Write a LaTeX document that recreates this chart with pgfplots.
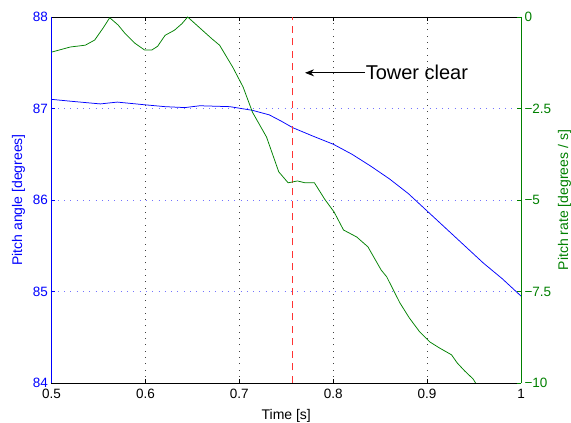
\documentclass[border=0pt]{standalone}
\usepackage{pgfplots}
\pgfplotsset{compat=1.18}
\usepackage{fontspec}
\setmainfont{Liberation Sans}
\usetikzlibrary{arrows.meta}
\definecolor{mgreen}{RGB}{0,128,0}
\definecolor{mblue}{RGB}{0,0,255}
\begin{document}
\begin{tikzpicture}
\useasboundingbox (-51.5bp,-40bp) rectangle (519.5bp,383bp);
\begin{axis}[
  scale only axis, width=469.5bp, height=366bp,
  at={(0,0)}, anchor=south west,
  xmin=0.5, xmax=1, ymin=84, ymax=88,
  xtick={0.5,0.6,0.7,0.8,0.9,1},
  xticklabels={0.5,0.6,0.7,0.8,0.9,1},
  ytick={84,85,86,87,88},
  yticklabels={84,85,86,87,88},
  axis y line*=left,
  axis x line*=box,
  tick align=inside,
  major tick length=4bp,
  every tick label/.append style={font=\fontsize{13.5bp}{16bp}\selectfont},
  xticklabel style={yshift=-3bp},
  yticklabel style={mblue},
  ytick style={mblue},
  y axis line style={mblue, line width=0.8bp},
  x axis line style={black, line width=0.8bp},
  xtick style={black},
  xmajorgrids, ymajorgrids,
  x grid style={black!75, dash pattern=on 0.8bp off 5.5bp},
  y grid style={mblue!55, dash pattern=on 0.8bp off 5.5bp},
  xlabel={Time [s]},
  xlabel style={font=\fontsize{14bp}{16bp}\selectfont, at={(axis description cs:0.5,-0.101)}, anchor=base},
  ylabel={Pitch angle [degrees]},
  ylabel style={font=\fontsize{14bp}{16bp}\selectfont, mblue, at={(axis description cs:-0.0628,0.5)}, anchor=base},
]
\addplot[mblue, line width=0.75bp] coordinates {
(0.500,87.10) (0.520,87.08) (0.552,87.05) (0.570,87.07) (0.600,87.04)
(0.621,87.02) (0.642,87.01) (0.658,87.03) (0.690,87.02) (0.714,86.98)
(0.732,86.93) (0.745,86.86) (0.757,86.79) (0.778,86.70) (0.800,86.61)
(0.820,86.50) (0.840,86.37) (0.860,86.23) (0.880,86.07) (0.900,85.88)
(0.920,85.69) (0.940,85.50) (0.960,85.31) (0.980,85.14) (1.000,84.95)
};
\addplot[red!80, line width=0.9bp, dash pattern=on 7bp off 5.5bp] coordinates {(0.757,84) (0.757,88)};
\draw[-{Stealth[length=9bp,width=7bp]}, line width=0.8bp] (axis cs:0.834,87.39) -- (axis cs:0.770,87.39);
\node[anchor=west, inner sep=0pt, font=\fontsize{20bp}{24bp}\selectfont] at (axis cs:0.8345,87.39) {Tower clear};
\end{axis}
\begin{axis}[
  scale only axis, width=469.5bp, height=366bp,
  at={(0,0)}, anchor=south west,
  xmin=0.5, xmax=1, ymin=-10, ymax=0,
  axis x line=none,
  axis y line*=right,
  ytick={-10,-7.5,-5,-2.5,0},
  yticklabels={−10,−7.5,−5,−2.5,0},
  tick align=inside,
  major tick length=4bp,
  every tick label/.append style={font=\fontsize{13.5bp}{16bp}\selectfont},
  yticklabel style={mgreen},
  ytick style={mgreen},
  y axis line style={mgreen, line width=0.8bp},
  ylabel={Pitch rate [degrees / s]},
  ylabel style={font=\fontsize{14bp}{16bp}\selectfont, mgreen, at={(axis description cs:1.1001,0.5)}, anchor=base, rotate=0},
]
\addplot[mgreen, line width=0.75bp] coordinates {
(0.500,-0.96) (0.520,-0.82) (0.536,-0.77) (0.546,-0.63) (0.555,-0.30)
(0.562,-0.02) (0.571,-0.22) (0.578,-0.44) (0.589,-0.72) (0.599,-0.90)
(0.607,-0.90) (0.613,-0.80) (0.621,-0.50) (0.631,-0.36) (0.639,-0.18)
(0.645,0.00) (0.658,-0.30) (0.671,-0.60) (0.679,-0.77) (0.693,-1.37)
(0.704,-1.91) (0.714,-2.60) (0.729,-3.28) (0.742,-4.23) (0.752,-4.53)
(0.762,-4.48) (0.770,-4.53) (0.780,-4.53) (0.791,-4.98) (0.801,-5.33)
(0.811,-5.82) (0.825,-6.01) (0.837,-6.28) (0.851,-6.91) (0.857,-7.10)
(0.871,-7.81) (0.881,-8.22) (0.892,-8.60) (0.903,-8.88) (0.913,-9.04)
(0.926,-9.23) (0.932,-9.45) (0.940,-9.67) (0.949,-9.89) (0.954,-10.10)
};
\end{axis}
\end{tikzpicture}
\end{document}
